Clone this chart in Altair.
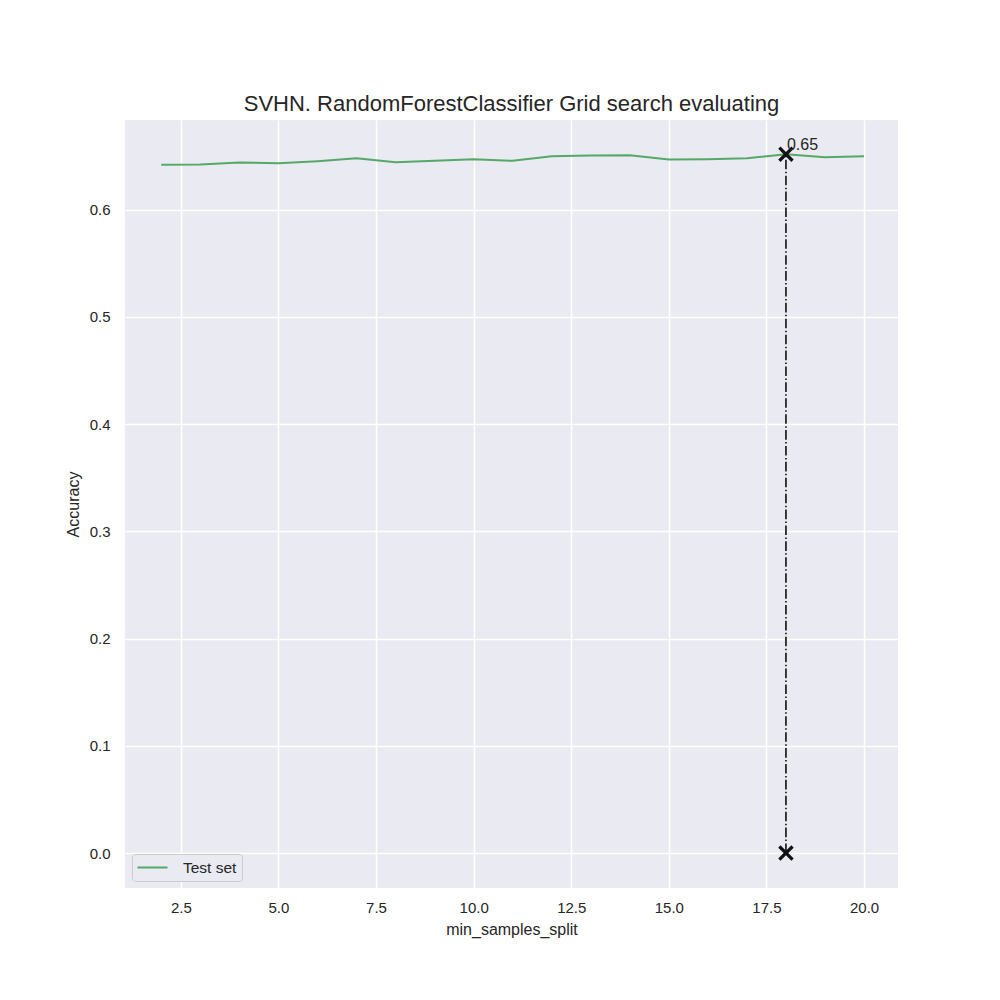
import altair as alt
import pandas as pd

min_samples_split = list(range(2, 21))
accuracy = [0.6419, 0.6421, 0.6440, 0.6434, 0.6453, 0.6480, 0.6443, 0.6456, 0.6471, 0.6456,
            0.6498, 0.6505, 0.6508, 0.6468, 0.6471, 0.6480, 0.6518, 0.6490, 0.6499]
series_name = ['Test set'] * len(min_samples_split)

best_x = 18
best_acc = 0.6518
best_label = '0.65'

FONT = 'Liberation Sans'
TXT = '#262626'

df = pd.DataFrame({'min_samples_split': min_samples_split,
                   'Accuracy': accuracy,
                   'series': series_name})
best_rule = pd.DataFrame({'x': [best_x], 'y0': [0.0], 'y1': [best_acc]})
best_pts = pd.DataFrame({'x': [best_x, best_x], 'y': [best_acc, 0.0]})
best_txt = pd.DataFrame({'x': [best_x], 'y': [best_acc], 'label': [best_label]})

x_scale = alt.Scale(domain=[1.07, 20.87], nice=False, zero=False)
y_scale = alt.Scale(domain=[-0.0326, 0.6837], nice=False, zero=False)

x_axis = alt.Axis(values=[2.5, 5, 7.5, 10, 12.5, 15, 17.5, 20], format='.1f',
                  labelPadding=12, titlePadding=6)
y_axis = alt.Axis(values=[0, 0.1, 0.2, 0.3, 0.4, 0.5, 0.6], format='.1f',
                  labelPadding=15, titlePadding=8)

line = alt.Chart(df).mark_line(strokeWidth=2).encode(
    x=alt.X('min_samples_split:Q', title='min_samples_split', scale=x_scale, axis=x_axis),
    y=alt.Y('Accuracy:Q', title='Accuracy', scale=y_scale, axis=y_axis),
    color=alt.Color('series:N',
                    scale=alt.Scale(range=['#55a868']),
                    legend=alt.Legend(
                        title=None,
                        orient='bottom-left',
                        offset=7,
                        symbolType='M-2,0H2',
                        symbolSize=225,
                        symbolStrokeWidth=2,
                        symbolOffset=7,
                        labelOffset=22,
                        labelFont=FONT,
                        labelFontSize=15.5,
                        labelColor=TXT,
                        padding=5,
                        fillColor='#eaeaf2',
                        strokeColor='#cccccc',
                        cornerRadius=3
                    ))
)

rule = alt.Chart(best_rule).mark_rule(color='black', strokeWidth=1.5,
                                      strokeDash=[9.6, 2.4, 1.5, 2.4]).encode(
    x=alt.X('x:Q', scale=x_scale),
    y=alt.Y('y0:Q', scale=y_scale),
    y2='y1:Q'
)

x_shape = ('M-1,-0.7L-0.7,-1L0,-0.3L0.7,-1L1,-0.7L0.3,0L1,0.7L0.7,1L0,0.3'
           'L-0.7,1L-1,0.7L-0.3,0Z')
points = alt.Chart(best_pts).mark_point(shape=x_shape, filled=True, size=240,
                                        color='#111111', opacity=1).encode(
    x=alt.X('x:Q', scale=x_scale),
    y=alt.Y('y:Q', scale=y_scale)
)

label = alt.Chart(best_txt).mark_text(align='left', baseline='alphabetic', dx=1, dy=-4,
                                      font=FONT, fontSize=16, color=TXT).encode(
    x=alt.X('x:Q', scale=x_scale),
    y=alt.Y('y:Q', scale=y_scale),
    text='label:N'
)

chart = alt.layer(line, rule, points, label).properties(
    width=773,
    height=768,
    padding={'left': 117, 'top': 112, 'right': 70, 'bottom': 90},
    autosize=alt.AutoSizeParams(type='none'),
    title=alt.TitleParams(
        text='SVHN. RandomForestClassifier Grid search evaluating',
        font=FONT,
        fontSize=22,
        fontWeight='normal',
        color=TXT,
        anchor='middle',
        offset=4
    )
).configure_view(
    fill='#eaeaf2',
    strokeWidth=0
).configure_axis(
    grid=True,
    gridColor='white',
    gridWidth=1.5,
    domain=False,
    ticks=False,
    labelFont=FONT,
    labelFontSize=15,
    labelColor=TXT,
    titleFont=FONT,
    titleFontSize=16,
    titleFontWeight='normal',
    titleColor=TXT
)

chart.save('out.html', embed_options={'renderer': 'svg', 'actions': False})
